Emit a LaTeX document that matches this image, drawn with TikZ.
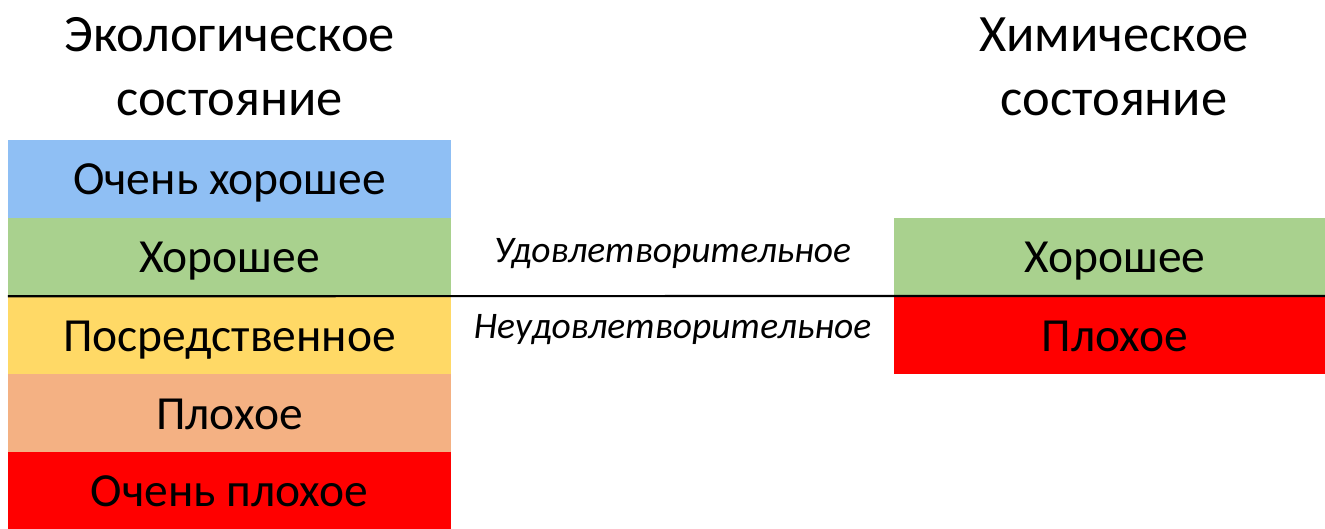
\documentclass[tikz,border=0pt]{standalone}
\usepackage{fontspec}
\setmainfont{Carlito}
\definecolor{cblue}{HTML}{8FBFF4}
\definecolor{cgreen}{HTML}{A9D18E}
\definecolor{cyellow}{HTML}{FFD966}
\definecolor{corange}{HTML}{F4B183}
\definecolor{cred}{HTML}{FF0000}
\tikzset{
  band/.style={rectangle, inner sep=0pt, minimum width=443pt, minimum height=78pt,
    text height=38pt, text depth=6pt, font=\fontsize{47.5}{56}\selectfont},
  rband/.style={band, minimum width=431pt, execute at begin node={\hspace*{11pt}}},
  title/.style={align=center, inner sep=0pt, font=\fontsize{52.5}{64}\selectfont},
  verdict/.style={inner sep=0pt, anchor=base, font=\fontsize{37.5}{44}\selectfont\itshape}
}
\begin{document}
\begin{tikzpicture}[x=1pt,y=-1pt]
\useasboundingbox (0,0) rectangle (1325,529);
\node[band, fill=cblue]   (e1) at (229.5,179) {Очень хорошее};
\node[band, fill=cgreen]  (e2) at (229.5,257) {Хорошее};
\node[band, fill=cyellow] (e3) at (229.5,335) {Посредственное};
\node[band, fill=corange] (e4) at (229.5,413) {Плохое};
\node[band, fill=cred]    (e5) at (229.5,490.5) {Очень плохое};
\node[rband, fill=cgreen] (c1) at (1109.5,257) {Хорошее};
\node[rband, fill=cred]   (c2) at (1109.5,335) {Плохое};
\node[title, anchor=base] (t1) at (229.5,116) {Экологическое\\состояние};
\node[title, anchor=base] (t2) at (1114,116) {Химическое\\состояние};
\node[verdict] (v1) at (672.5,262.5) {Удовлетворительное};
\node[verdict] (v2) at (672.5,338) {Неудовлетворительное};
\coordinate (lineend) at (1325,296);
\draw[line width=2.2pt] (e2.south west) -- (lineend);
\end{tikzpicture}
\end{document}
